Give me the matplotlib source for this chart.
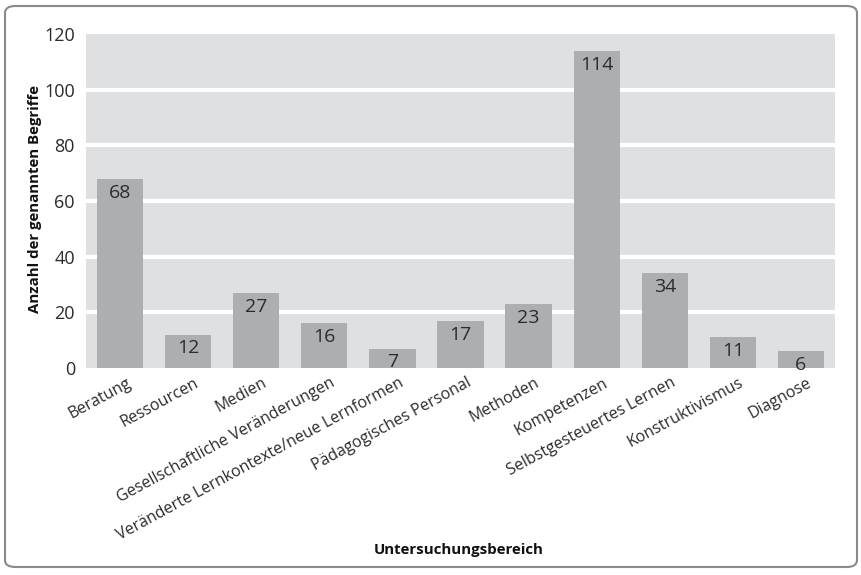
import matplotlib
matplotlib.use("Agg")
import matplotlib.pyplot as plt
import matplotlib.transforms as mtransforms
from matplotlib.patches import FancyBboxPatch

categories = ["Beratung", "Ressourcen", "Medien", "Gesellschaftliche Veränderungen",
              "Veränderte Lernkontexte/neue Lernformen", "Pädagogisches Personal",
              "Methoden", "Kompetenzen", "Selbstgesteuertes Lernen",
              "Konstruktivismus", "Diagnose"]
values = [68, 12, 27, 16, 7, 17, 23, 114, 34, 11, 6]
yticks = [0, 20, 40, 60, 80, 100, 120]

plt.rcParams['font.family'] = ['Open Sans', 'DejaVu Sans']
txt = '#2b2b2b'

fig = plt.figure(figsize=(8.61, 5.75), dpi=100)
ax = fig.add_axes([86/861, 1-368/575, (835-86)/861, (368-34)/575])
ax.set_facecolor('#dfe0e2')
x = range(len(categories))
ax.bar(x, values, width=0.68, color='#adaeb1', zorder=3)
ax.set_xlim(-0.5, len(categories)-0.5)
ax.set_ylim(0, 120)
ax.set_yticks(yticks)
ax.set_yticklabels([str(v) for v in yticks], fontsize=13, color=txt)
for v in yticks[1:-1]:
    ax.axhline(v, color='white', lw=3, zorder=2)
for s in ax.spines.values():
    s.set_visible(False)
ax.tick_params(length=0, pad=8)
ax.set_xticks(list(x))
ax.set_xticklabels(categories, rotation=28.5, ha='right', rotation_mode='anchor',
                   fontsize=11.5, color=txt)
ax.tick_params(axis='x', pad=5)
offset = mtransforms.ScaledTranslation(6/100, 0, fig.dpi_scale_trans)
for lbl in ax.get_xticklabels():
    lbl.set_transform(lbl.get_transform() + offset)
for xi, v in zip(x, values):
    ax.annotate(str(v), (xi, v), xytext=(0, -3.5), textcoords='offset points',
                ha='center', va='top', fontsize=14, color=txt, zorder=4)

fig.text(35/861, 1-199/575, 'Anzahl der genannten Begriffe', rotation=90,
         ha='center', va='center', fontsize=10.8, fontweight='bold', color='#111')
fig.text(459/861, 1-550/575, 'Untersuchungsbereich', ha='center', va='center',
         fontsize=10.8, fontweight='bold', color='#111')

frame = FancyBboxPatch((5/861, 8/575), (857-5)/861, (569-8)/575,
                       boxstyle='round,pad=0,rounding_size=0.012',
                       transform=fig.transFigure, fill=False,
                       edgecolor='#8a8a8a', lw=1.5)
fig.patches.append(frame)

fig.savefig('out.png', dpi=100)
